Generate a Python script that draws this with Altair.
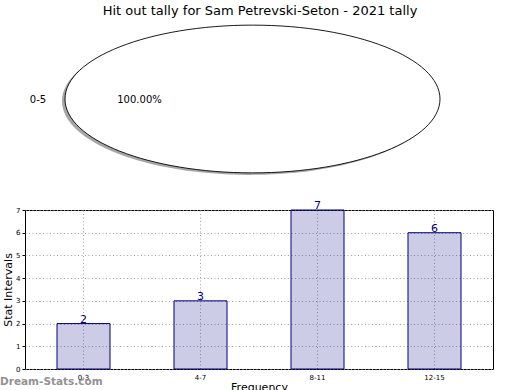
import altair as alt
import pandas as pd

# Data
bar_categories = ["0-3", "4-7", "8-11", "12-15"]
bar_values = [2, 3, 7, 6]
pie_labels = ["0-5"]
pie_values = [100.0]
title_text = "Hit out tally for Sam Petrevski-Seton - 2021 tally"
watermark = "Dream-Stats.com"

bars_df = pd.DataFrame({"interval": bar_categories, "count": bar_values})
pie_df = pd.DataFrame({"label": pie_labels, "pct": pie_values})
pie_df["pct_text"] = pie_df["pct"].map(lambda v: f"{v:.2f}%")

FONT = "DejaVu Sans"
# ellipse outline (unit half-width, aspect ratio b) drawn with cubic curves
b = 0.394
k = 0.5523
kb = round(k * b, 4)
ELLIPSE = (f"M -1 0 C -1 {-kb} {-k} {-b} 0 {-b} C {k} {-b} 1 {-kb} 1 0 "
           f"C 1 {kb} {k} {b} 0 {b} C {-k} {b} -1 {kb} -1 0 Z")
ELL_SIZE = 375 * 375

x_enc = alt.X("interval:N", sort=bar_categories, title="Frequency",
              scale=alt.Scale(paddingInner=0, paddingOuter=0),
              axis=alt.Axis(labelAngle=0, labelFontSize=7, labelFont=FONT,
                            labelColor="black", labelPadding=4, tickSize=0,
                            domain=False, grid=True, bandPosition=0.5,
                            gridColor="#999999", gridDash=[1, 2.5], gridWidth=0.9,
                            titleFont=FONT, titleFontSize=11, titleFontWeight="normal",
                            titleColor="black", titlePadding=1))
y_enc = alt.Y("count:Q", title="Stat Intervals",
              scale=alt.Scale(domain=[0, 7], nice=False),
              axis=alt.Axis(values=list(range(0, 8)), labelFontSize=7, labelFont=FONT,
                            labelColor="black", labelPadding=2, tickSize=3,
                            tickColor="black", domain=False, grid=True,
                            labelOverlap=False,
                            gridColor="#999999", gridDash=[1, 2.5], gridWidth=0.9,
                            titleFont=FONT, titleFontSize=11, titleFontWeight="normal",
                            titleColor="black", titlePadding=2))

bars = alt.Chart(bars_df).mark_bar(
    size=53, fill="navy", fillOpacity=0.2, stroke="navy", strokeWidth=1
).encode(x=x_enc, y=y_enc)

bar_text = alt.Chart(bars_df).mark_text(
    baseline="alphabetic", dy=-1, color="navy", fontSize=11, font=FONT
).encode(x=x_enc, y=y_enc, text="count:Q")

shadow = alt.Chart(pie_df).mark_point(
    shape=ELLIPSE, filled=True, fill="#808080", opacity=0.7, strokeWidth=0
).encode(x=alt.value(224.5), y=alt.value(-109), size=alt.value(ELL_SIZE))

ellipse = alt.Chart(pie_df).mark_point(
    shape=ELLIPSE, filled=True, fill="white", stroke="black", strokeWidth=0.9, opacity=1
).encode(x=alt.value(227.5), y=alt.value(-111), size=alt.value(ELL_SIZE))

pie_label = alt.Chart(pie_df).mark_text(
    fontSize=10, font=FONT, color="black", align="center", baseline="middle"
).encode(x=alt.value(13), y=alt.value(-110), text="label:N")

pie_pct = alt.Chart(pie_df).mark_text(
    fontSize=10, font=FONT, color="black", align="center", baseline="middle"
).encode(x=alt.value(114.5), y=alt.value(-110), text="pct_text:N")

title_df = pd.DataFrame({"t": [title_text]})
title = alt.Chart(title_df).mark_text(
    fontSize=13, font=FONT, color="black", align="center", baseline="alphabetic"
).encode(x=alt.value(235), y=alt.value(-195.5), text="t:N")

wm_df = pd.DataFrame({"t": [watermark]})
wm = alt.Chart(wm_df).mark_text(
    fontSize=10.5, font=FONT, fontWeight="bold", color="#808080", opacity=0.85,
    align="left", baseline="middle"
).encode(x=alt.value(-25), y=alt.value(171.5), text="t:N")

chart = alt.layer(
    bars, bar_text, shadow, ellipse, pie_label, pie_pct, title, wm
).properties(
    width=468, height=159,
    autosize=alt.AutoSizeParams(type="none"),
    padding={"left": 25, "top": 210, "right": 27, "bottom": 21},
    background="white",
).configure_view(stroke="black", strokeWidth=1, clip=False)

chart.save("out.html", embed_options={"renderer": "svg", "actions": False})
